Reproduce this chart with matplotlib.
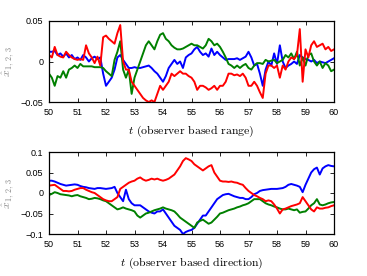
import numpy as np
import matplotlib
matplotlib.use("Agg")
import matplotlib.pyplot as plt

t = np.round(np.arange(50.0, 60.0001, 0.1), 1)

# top: observer based range
range_blue = [0.012, 0.012, 0.013, 0.008, 0.010, 0.006, 0.010, 0.005, 0.008, 0.003,
              0.005, 0.002, 0.008, 0.005, 0.000, 0.004, 0.006, 0.003, 0.005, -0.015,
              -0.030, -0.025, -0.020, -0.010, 0.005, 0.008, 0.002, -0.003, -0.008, -0.008,
              -0.007, -0.008, -0.008, -0.007, -0.006, -0.005, -0.008, -0.012, -0.015, -0.020,
              -0.025, -0.018, -0.008, -0.003, 0.002, -0.003, 0.000, -0.008, 0.005, 0.008,
              0.010, 0.015, 0.018, 0.012, 0.008, 0.010, 0.006, 0.016, 0.008, 0.012,
              0.008, 0.005, 0.002, 0.003, 0.003, 0.003, 0.004, 0.002, 0.004, 0.006,
              0.012, 0.005, -0.005, -0.003, -0.015, -0.030, -0.010, 0.000, -0.005, 0.010,
              -0.003, 0.020, 0.000, -0.008, -0.005, -0.003, 0.000, -0.003, 0.008, 0.005,
              0.003, 0.002, 0.000, 0.002, -0.002, 0.000, -0.001, -0.002, 0.000, 0.002,
              0.004]
range_red = [0.008, 0.005, 0.018, 0.008, 0.006, 0.005, 0.012, 0.008, 0.005, 0.003,
             0.002, 0.003, 0.002, 0.020, 0.010, 0.005, -0.002, 0.006, -0.005, 0.030,
             0.032, 0.028, 0.025, 0.022, 0.035, 0.045, 0.000, -0.010, -0.010, -0.025,
             -0.030, -0.035, -0.040, -0.045, -0.048, -0.050, -0.048, -0.050, -0.040, -0.030,
             -0.035, -0.030, -0.025, -0.015, -0.018, -0.015, -0.012, -0.015, -0.015, -0.018,
             -0.020, -0.025, -0.035, -0.030, -0.030, -0.032, -0.035, -0.033, -0.030, -0.035,
             -0.030, -0.030, -0.025, -0.015, -0.015, -0.017, -0.016, -0.018, -0.015, -0.020,
             -0.030, -0.030, -0.025, -0.030, -0.038, -0.045, -0.015, -0.005, -0.005, -0.008,
             -0.005, -0.020, -0.005, -0.010, 0.000, 0.005, 0.003, 0.008, 0.040, -0.025,
             0.015, 0.005, 0.020, 0.025, 0.018, 0.020, 0.022, 0.015, 0.018, 0.013,
             0.015]
range_green = [-0.015, -0.020, -0.030, -0.018, -0.020, -0.012, -0.020, -0.010, -0.008, -0.005,
               -0.008, -0.003, -0.006, -0.006, -0.006, -0.006, -0.007, -0.007, -0.007, -0.008,
               -0.012, -0.015, -0.018, 0.002, 0.012, 0.025, -0.010, -0.020, -0.010, -0.040,
               -0.020, -0.010, 0.000, 0.010, 0.020, 0.025, 0.020, 0.015, 0.025, 0.033,
               0.035, 0.028, 0.025, 0.020, 0.017, 0.015, 0.015, 0.016, 0.018, 0.020,
               0.022, 0.020, 0.020, 0.018, 0.016, 0.020, 0.028, 0.025, 0.020, 0.022,
               0.018, 0.012, 0.005, -0.003, -0.005, -0.008, -0.005, -0.008, -0.005, -0.003,
               -0.008, -0.010, -0.005, -0.002, -0.002, -0.003, 0.002, 0.000, 0.001, 0.002,
               -0.002, 0.000, 0.002, 0.008, 0.005, 0.010, 0.003, 0.012, -0.005, 0.005,
               -0.005, 0.008, 0.010, 0.000, -0.005, 0.000, -0.008, -0.002, -0.005, -0.012,
               -0.010]

# bottom: observer based direction
dir_blue = [0.030, 0.030, 0.028, 0.025, 0.022, 0.020, 0.018, 0.019, 0.020, 0.021,
            0.020, 0.017, 0.015, 0.014, 0.012, 0.011, 0.010, 0.012, 0.012, 0.011,
            0.010, 0.011, 0.012, 0.015, 0.000, -0.010, -0.020, 0.008, -0.015, -0.025,
            -0.030, -0.030, -0.030, -0.035, -0.040, -0.045, -0.048, -0.050, -0.045, -0.045,
            -0.040, -0.050, -0.060, -0.070, -0.080, -0.085, -0.090, -0.100, -0.095, -0.092,
            -0.090, -0.085, -0.075, -0.065, -0.055, -0.055, -0.045, -0.035, -0.025, -0.015,
            -0.010, -0.005, -0.003, -0.002, -0.005, -0.008, -0.010, -0.012, -0.012, -0.015,
            -0.015, -0.010, -0.003, 0.000, 0.005, 0.007, 0.008, 0.009, 0.010, 0.010,
            0.010, 0.011, 0.012, 0.015, 0.020, 0.022, 0.020, 0.018, 0.015, 0.002,
            0.020, 0.035, 0.050, 0.058, 0.062, 0.045, 0.060, 0.065, 0.068, 0.066,
            0.065]
dir_red = [0.018, 0.019, 0.020, 0.015, 0.010, 0.005, 0.005, 0.004, 0.005, 0.008,
           0.010, 0.012, 0.012, 0.008, 0.005, 0.002, 0.000, -0.005, -0.010, -0.015,
           -0.018, -0.020, -0.020, -0.015, -0.010, 0.010, 0.015, 0.020, 0.025, 0.028,
           0.030, 0.035, 0.038, 0.033, 0.030, 0.032, 0.035, 0.033, 0.035, 0.032,
           0.030, 0.032, 0.035, 0.040, 0.045, 0.055, 0.065, 0.078, 0.085, 0.082,
           0.078, 0.070, 0.065, 0.060, 0.055, 0.060, 0.065, 0.068, 0.050, 0.040,
           0.030, 0.028, 0.028, 0.027, 0.028, 0.026, 0.025, 0.022, 0.020, 0.012,
           0.005, 0.000, -0.005, -0.008, -0.012, -0.015, -0.020, -0.018, -0.020, -0.028,
           -0.038, -0.050, -0.040, -0.038, -0.035, -0.032, -0.030, -0.028, -0.025, -0.010,
           -0.020, -0.030, -0.040, -0.045, -0.035, -0.038, -0.038, -0.036, -0.035, -0.032,
           -0.030]
dir_green = [-0.005, -0.002, 0.002, 0.000, -0.003, -0.004, -0.005, -0.006, -0.008, -0.006,
             -0.005, -0.008, -0.010, -0.012, -0.015, -0.014, -0.012, -0.013, -0.015, -0.018,
             -0.020, -0.025, -0.030, -0.035, -0.040, -0.038, -0.035, -0.038, -0.040, -0.042,
             -0.045, -0.055, -0.060, -0.055, -0.050, -0.048, -0.045, -0.042, -0.040, -0.038,
             -0.035, -0.038, -0.040, -0.042, -0.045, -0.052, -0.060, -0.065, -0.070, -0.075,
             -0.080, -0.085, -0.072, -0.068, -0.065, -0.070, -0.075, -0.072, -0.065, -0.058,
             -0.050, -0.048, -0.045, -0.042, -0.040, -0.038, -0.035, -0.033, -0.030, -0.028,
             -0.025, -0.020, -0.015, -0.015, -0.015, -0.020, -0.025, -0.028, -0.030, -0.033,
             -0.035, -0.038, -0.040, -0.040, -0.038, -0.040, -0.042, -0.040, -0.048, -0.046,
             -0.045, -0.038, -0.030, -0.025, -0.015, -0.028, -0.030, -0.028, -0.025, -0.023,
             -0.022]

xticks = [50, 51, 52, 53, 54, 55, 56, 57, 58, 59, 60]
top_yticks = [-0.05, 0, 0.05]
top_yticklabels = ["\u22120.05", "0", "0.05"]
bot_yticks = [-0.1, -0.05, 0, 0.05, 0.1]
bot_yticklabels = ["\u22120.1", "\u22120.05", "0", "0.05", "0.1"]
blue, red, green = "#0000ff", "#ff0000", "#008000"

plt.rcParams["mathtext.fontset"] = "cm"

fig = plt.figure(figsize=(3.67, 2.76), dpi=100)
W, H = 367.0, 276.0
ax1 = fig.add_axes([49 / W, 1 - 102 / H, 285 / W, 81 / H])
ax2 = fig.add_axes([49 / W, 1 - 234 / H, 285 / W, 82 / H])

panels = [
    (ax1, (range_blue, range_green, range_red), (-0.05, 0.05), top_yticks, top_yticklabels,
     "(observer based range)"),
    (ax2, (dir_blue, dir_green, dir_red), (-0.1, 0.1), bot_yticks, bot_yticklabels,
     "(observer based direction)"),
]

for ax, series, ylim, yt, ytl, lab in panels:
    for s, c in zip(series, (blue, green, red)):
        ax.plot(t, s, color=c, lw=1.4)
    ax.set_xlim(50, 60)
    ax.set_ylim(*ylim)
    ax.set_xticks(xticks)
    ax.set_xticklabels([str(x) for x in xticks], family="Liberation Sans", fontsize=6.5)
    ax.set_yticks(yt)
    ax.set_yticklabels(ytl, family="Liberation Sans", fontsize=6.5)
    ax.tick_params(direction="in", top=True, right=True, length=3, width=0.6, pad=4)
    for sp in ax.spines.values():
        sp.set_linewidth(0.9)
    ax.set_xlabel(r"$t$ " + lab, family="cmr10", fontsize=8.5, labelpad=5)
    ax.set_ylabel(r"$\hat{x}_{1,\,2,\,3}$", fontsize=8.5, color="#888888")
    ax.yaxis.set_label_coords(-0.115, 0.5)

fig.savefig("out.png", dpi=100)
